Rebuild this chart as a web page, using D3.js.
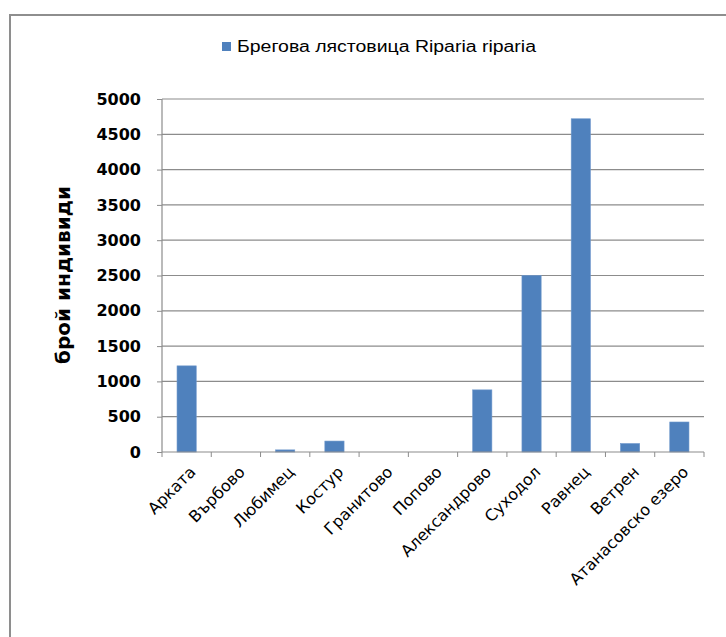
<!doctype html>
<html>
<head>
<meta charset="utf-8">
<title>Брегова лястовица</title>
<script src="https://d3js.org/d3.v7.min.js"></script>
<style>
body { margin: 0; background: white; }
svg { display: block; }
</style>
</head>
<body>
<div id="chart1"></div>
<script>
// data
var sites = ["Арката", "Върбово", "Любимец", "Костур", "Гранитово", "Попово",
  "Александрово", "Суходол", "Равнец", "Ветрен", "Атанасовско езеро"];
var counts = [1220, 0, 30, 155, 0, 0, 880, 2500, 4720, 120, 425];
var yTicks = [0, 500, 1000, 1500, 2000, 2500, 3000, 3500, 4000, 4500, 5000];
var seriesName = "Брегова лястовица Riparia riparia";
var yTitle = "брой индивиди";

var W = 726, H = 637;
var margin = { top: 99, right: 22, bottom: 185, left: 162 },
  width = W - margin.left - margin.right,
  height = H - margin.top - margin.bottom;

var root = d3.select("#chart1").append("svg")
  .attr("width", W)
  .attr("height", H);

// outer chart frame (runs off the right and bottom edges)
root.append("rect")
  .attr("x", 10).attr("y", 15)
  .attr("width", 740).attr("height", 660)
  .attr("fill", "white")
  .attr("stroke", "#8e8e8e")
  .attr("stroke-width", 2);

var svg = root.append("g")
  .attr("transform", "translate(" + margin.left + "," + margin.top + ")");

var x = d3.scaleBand()
  .domain(sites)
  .range([0, width])
  .paddingInner(0.61)
  .paddingOuter(0.305);

var y = d3.scaleLinear()
  .domain([0, 5000])
  .range([height, 0]);

// gridlines
svg.append("g")
  .selectAll("line")
  .data(yTicks.slice(1))
  .join("line")
  .attr("x1", 0).attr("x2", width)
  .attr("y1", function(d) { return y(d); })
  .attr("y2", function(d) { return y(d); })
  .attr("stroke", "#8c8c8c")
  .attr("stroke-width", 1.2);

// bars
svg.append("g")
  .selectAll("rect")
  .data(counts)
  .join("rect")
  .attr("x", function(d, i) { return x(sites[i]); })
  .attr("y", function(d) { return y(d); })
  .attr("width", x.bandwidth())
  .attr("height", function(d) { return height - y(d); })
  .attr("fill", "#4f81bd")
  .attr("stroke", "#6e97cb")
  .attr("stroke-width", 0.6);

// y axis
var yAxis = svg.append("g")
  .call(d3.axisLeft(y).tickValues(yTicks).tickFormat(d3.format("d"))
    .tickSize(5).tickPadding(16));
yAxis.select(".domain").attr("stroke", "#8c8c8c").attr("stroke-width", 1.2)
  .attr("d", "M0," + height + "V0");
yAxis.selectAll(".tick line").attr("stroke", "#8c8c8c");
yAxis.selectAll(".tick text")
  .attr("font-family", "DejaVu Sans")
  .attr("font-weight", "bold")
  .attr("font-size", "16px")
  .attr("fill", "#000");

// x axis: ticks on category boundaries
var xAxis = svg.append("g")
  .attr("transform", "translate(0," + height + ")");
xAxis.append("line")
  .attr("x1", 0).attr("x2", width)
  .attr("stroke", "#8c8c8c").attr("stroke-width", 1.2);
xAxis.selectAll("line.tk")
  .data(d3.range(sites.length + 1))
  .join("line")
  .attr("class", "tk")
  .attr("x1", function(i) { return i * x.step(); })
  .attr("x2", function(i) { return i * x.step(); })
  .attr("y1", 0).attr("y2", 5)
  .attr("stroke", "#8c8c8c");
xAxis.selectAll("text")
  .data(sites)
  .join("text")
  .attr("transform", function(d) {
    return "translate(" + (x(d) + x.bandwidth() / 2 + 10) + ",21) rotate(-45)";
  })
  .attr("text-anchor", "end")
  .attr("font-family", "DejaVu Sans")
  .attr("font-size", "16px")
  .attr("fill", "#000")
  .text(function(d) { return d; });

// y title
root.append("text")
  .attr("transform", "translate(70,275) rotate(-90)")
  .attr("text-anchor", "middle")
  .attr("font-family", "DejaVu Sans")
  .attr("font-weight", "bold")
  .attr("font-size", "20px")
  .text(yTitle);

// legend
var legend = root.append("g").attr("transform", "translate(222,42)");
legend.append("rect")
  .attr("width", 9).attr("height", 9)
  .attr("fill", "#4f81bd");
legend.append("text")
  .attr("x", 15).attr("y", 10)
  .attr("font-family", "Liberation Sans Narrow, Liberation Sans")
  .attr("font-size", "16px")
  .attr("textLength", 299)
  .attr("lengthAdjust", "spacingAndGlyphs")
  .text(seriesName);
</script>
</body>
</html>
